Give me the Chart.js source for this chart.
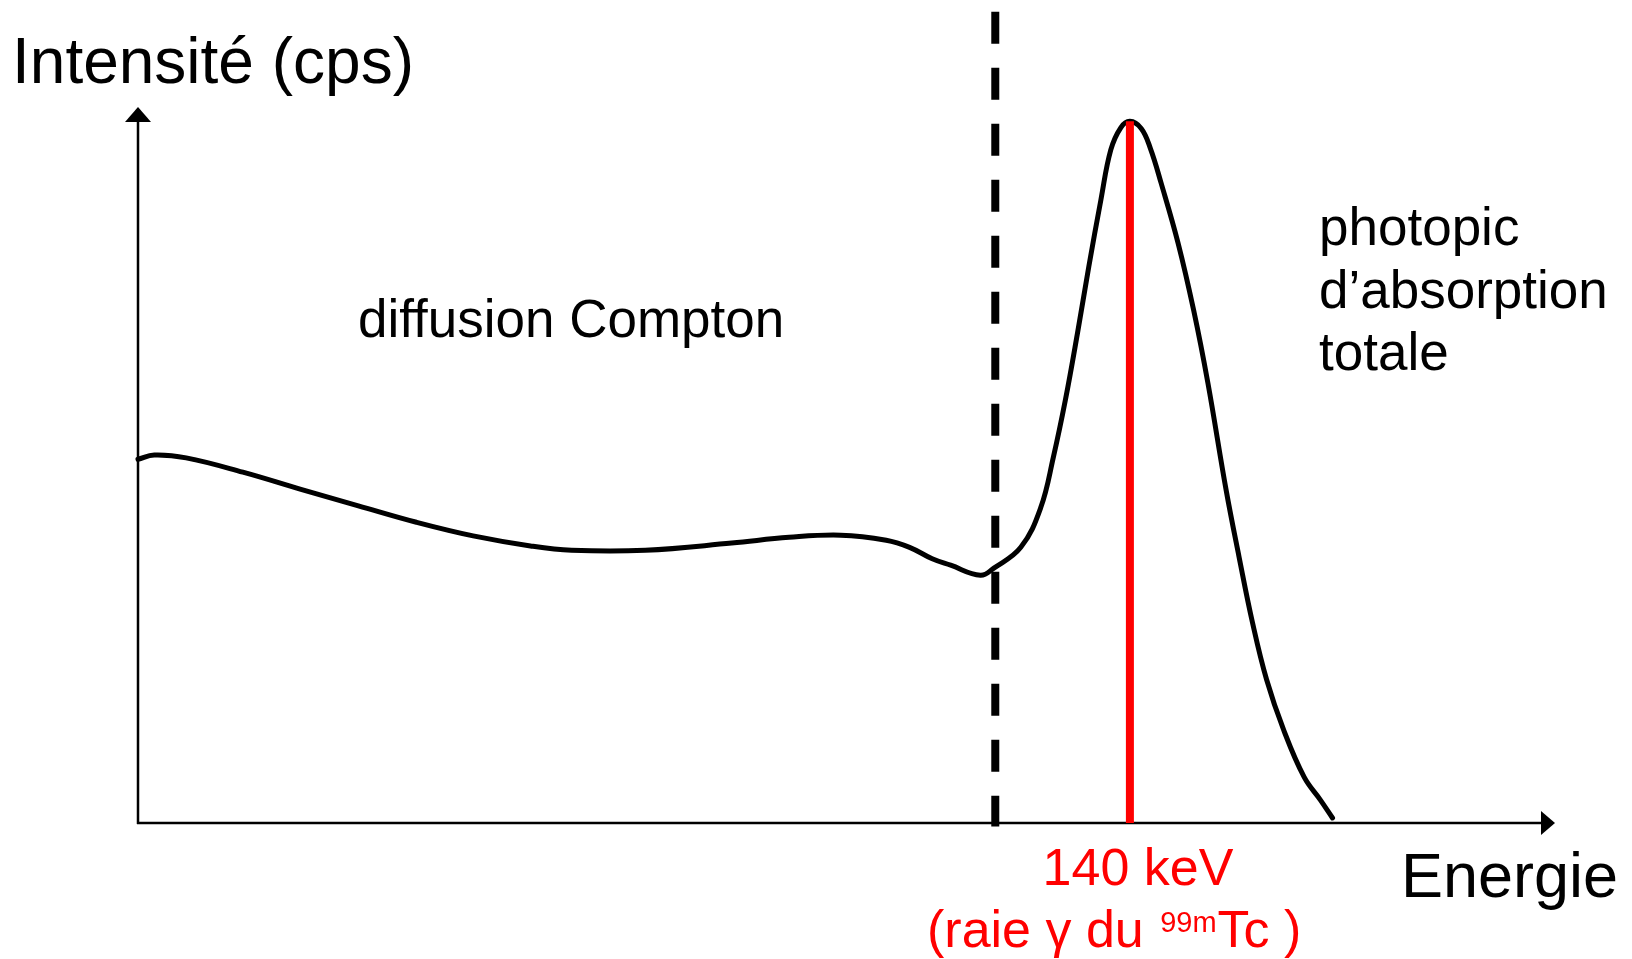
<!DOCTYPE html>
<html>
<head>
<meta charset="utf-8">
<script src="https://cdn.jsdelivr.net/npm/chart.js"></script>
<style>
  body { margin: 0; background: #fff; }
  #wrap { width: 1632px; height: 959px; position: relative; }
</style>
</head>
<body>
<div id="wrap"><canvas id="spectrum"></canvas></div>
<script>
// spectrum (energy in keV, intensity in arbitrary units 0-100)
const energy = [0, 2.3, 6.8, 14.8, 23.0, 31.1, 39.3, 47.3, 55.4, 61.2, 71.6, 83.8, 91.9, 99.2,
    105.6, 108.9, 112.1, 114.7, 118.9, 120.8, 124.6, 127.4, 129.2, 130.9, 132.6, 134.2, 135.9,
    137.3, 138.7, 140.0, 141.6, 142.9, 144.4, 146.8, 149.0, 151.0, 153.6, 155.4, 157.3, 159.3,
    161.7, 164.6, 166.9, 168.6];
const counts = [50.8, 51.4, 51.0, 49.0, 46.6, 44.3, 42.0, 40.1, 38.7, 38.1, 38.1, 39.1, 39.9, 40.2,
    39.5, 38.5, 36.9, 36.0, 34.6, 35.6, 38.5, 44.0, 51.1, 59.1, 68.4, 77.7, 87.0,
    94.0, 97.1, 98.0, 97.0, 94.2, 89.4, 81.0, 71.6, 61.5, 46.4, 37.2, 28.0, 20.0,
    13.0, 6.4, 3.2, 0.7];

const peakEnergy = 140;      // raie gamma du 99mTc
const peakHeight = 98.0;
const comptonEdge = 121;     // limite en pointillés
const dashTop = 113.3;
const dashBottom = -0.5;

const xMin = 0, xMax = 200;
const yMin = 0, yMax = 100;

const yTitle = 'Intensité (cps)';
const xTitle = 'Energie';
const comptonLabel = 'diffusion Compton';
const photopicLabel = ['photopic', 'd\u2019absorption', 'totale'];
const peakLabel = '140 keV';
const peakNote = ['(raie \u03b3 du ', '99m', 'Tc )'];

const FONT = '"Liberation Sans", Arial, sans-serif';

function toPoints(xs, ys) {
    return xs.map((x, i) => ({ x: x, y: ys[i] }));
}

// axes with arrow heads, drawn under the curves
const axesPlugin = {
    id: 'axesPlugin',
    beforeDatasetsDraw(chart) {
        const ctx = chart.ctx;
        const sx = chart.scales.x, sy = chart.scales.y;
        const x0 = sx.getPixelForValue(xMin);
        const y0 = sy.getPixelForValue(yMin);
        const xEnd = sx.getPixelForValue(xMax);
        const yEnd = sy.getPixelForValue(yMax);
        ctx.save();
        ctx.strokeStyle = '#000';
        ctx.fillStyle = '#000';
        ctx.lineWidth = 2.5;
        ctx.beginPath();
        ctx.moveTo(x0, y0 + 1);
        ctx.lineTo(x0, yEnd + 12);
        ctx.moveTo(x0 - 1, y0);
        ctx.lineTo(xEnd - 12, y0);
        ctx.stroke();
        // arrow heads
        ctx.beginPath();
        ctx.moveTo(x0, yEnd);
        ctx.lineTo(x0 - 13, yEnd + 15);
        ctx.lineTo(x0 + 13, yEnd + 15);
        ctx.closePath();
        ctx.fill();
        ctx.beginPath();
        ctx.moveTo(xEnd, y0);
        ctx.lineTo(xEnd - 14, y0 - 12);
        ctx.lineTo(xEnd - 14, y0 + 12);
        ctx.closePath();
        ctx.fill();
        ctx.restore();
    }
};

// texts
const labelsPlugin = {
    id: 'labelsPlugin',
    afterDraw(chart) {
        const ctx = chart.ctx;
        ctx.save();
        ctx.textBaseline = 'alphabetic';
        ctx.textAlign = 'left';
        ctx.fillStyle = '#000';

        ctx.font = '64px ' + FONT;
        ctx.fillText(yTitle, 12, 83);
        ctx.font = '63px ' + FONT;
        ctx.fillText(xTitle, 1401, 897);

        ctx.font = '53px ' + FONT;
        ctx.fillText(comptonLabel, 358, 337);
        photopicLabel.forEach((t, i) => {
            ctx.fillText(t, 1319, 245 + i * 62.5);
        });

        ctx.fillStyle = '#ff0000';
        ctx.font = '52px ' + FONT;
        ctx.textAlign = 'center';
        ctx.fillText(peakLabel, 1138, 885);
        ctx.textAlign = 'left';
        // second line: prefix, superscript, then the rest, chained
        let x = 927;
        ctx.fillText(peakNote[0], x, 947);
        x += ctx.measureText(peakNote[0]).width + 2;
        ctx.font = '29px ' + FONT;
        ctx.fillText(peakNote[1], x, 932);
        x += ctx.measureText(peakNote[1]).width + 1;
        ctx.font = '52px ' + FONT;
        ctx.fillText(peakNote[2], x, 947);
        ctx.restore();
    }
};

const canvas = document.getElementById('spectrum');

let spectrumChart = new Chart(canvas, {
    type: 'line',
    data: {
        datasets: [
            {
                label: 'raie',
                data: toPoints([peakEnergy, peakEnergy], [0, peakHeight]),
                borderColor: '#ff0000',
                borderWidth: 8,
                borderCapStyle: 'butt',
                pointRadius: 0,
                tension: 0,
                clip: false
            },
            {
                label: 'limite',
                data: toPoints([comptonEdge, comptonEdge], [dashTop, dashBottom]),
                borderColor: '#000',
                borderWidth: 8,
                borderDash: [32, 24],
                borderCapStyle: 'butt',
                pointRadius: 0,
                tension: 0,
                clip: false
            },
            {
                label: 'spectre',
                data: toPoints(energy, counts),
                borderColor: '#000',
                borderWidth: 5,
                borderCapStyle: 'round',
                borderJoinStyle: 'round',
                pointRadius: 0,
                tension: 0.4,
                clip: false
            }
        ]
    },
    options: {
        responsive: true,
        maintainAspectRatio: false,
        animation: false,
        layout: {
            padding: { left: 138, right: 77, top: 107, bottom: 136 }
        },
        scales: {
            x: { type: 'linear', min: xMin, max: xMax, display: false },
            y: { type: 'linear', min: yMin, max: yMax, display: false }
        },
        plugins: {
            legend: { display: false },
            tooltip: { enabled: false },
            title: { display: false }
        }
    },
    plugins: [axesPlugin, labelsPlugin]
});
</script>
</body>
</html>
